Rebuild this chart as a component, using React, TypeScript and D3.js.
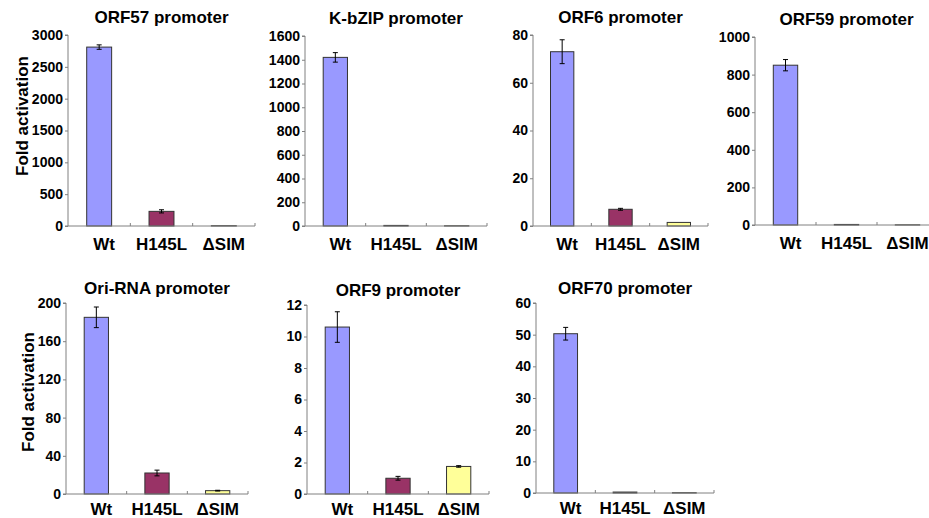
import React, { useEffect, useRef } from "react";
import * as d3 from "d3";

const groups = ["Wt", "H145L", "\u0394SIM"];
const groupColors = ["#9999ff", "#993366", "#ffff99"];

const titles = [
  "ORF57 promoter",
  "K-bZIP promoter",
  "ORF6 promoter",
  "ORF59 promoter",
  "Ori-RNA promoter",
  "ORF9 promoter",
  "ORF70 promoter",
];

// mean fold activation per promoter (Wt, H145L, dSIM)
const orf57 = [2810, 230, 5];
const kbzip = [1420, 5, 2];
const orf6 = [73, 7, 1.5];
const orf59 = [850, 3, 1];
const oriRna = [185, 22, 3.5];
const orf9 = [10.6, 1.0, 1.75];
const orf70 = [50.3, 0.3, 0.1];

// error (one SD) per promoter
const orf57Err = [35, 25, 0];
const kbzipErr = [40, 0, 0];
const orf6Err = [5, 0.4, 0];
const orf59Err = [30, 0, 0];
const oriRnaErr = [10.8, 3, 0.4];
const orf9Err = [0.97, 0.12, 0.05];
const orf70Err = [2, 0, 0];

// y axis maximum and tick step per panel
const yMaxes = [3000, 1600, 80, 1000, 200, 12, 60];
const yTickSteps = [500, 200, 20, 200, 40, 2, 10];

const allValues = [orf57, kbzip, orf6, orf59, oriRna, orf9, orf70];
const allErrors = [orf57Err, kbzipErr, orf6Err, orf59Err, oriRnaErr, orf9Err, orf70Err];

// plot frames (left, right, top, bottom) in page pixels
const frames = [
  [68, 255, 35, 226],
  [305, 487, 36, 226],
  [533, 708, 35, 226],
  [755, 938, 37, 225],
  [66, 248, 303, 494],
  [307, 489, 305, 494],
  [536, 714, 303, 493],
];

const font = "'Liberation Sans', Arial, sans-serif";
const axisColor = "#808080";

function Panel({ idx }) {
  const yAxisRef = useRef(null);
  const [left, right, top, bottom] = frames[idx];
  const values = allValues[idx];
  const errors = allErrors[idx];
  const yMax = yMaxes[idx];
  const step = yTickSteps[idx];

  const x = d3
    .scaleBand()
    .domain(groups)
    .range([left, right])
    .paddingInner(0.6)
    .paddingOuter(0.3);

  const y = d3.scaleLinear().domain([0, yMax]).range([bottom, top]);

  useEffect(() => {
    const axis = d3
      .axisLeft(y)
      .tickValues(d3.range(0, yMax + step / 2, step))
      .tickSize(3)
      .tickPadding(2)
      .tickFormat(d3.format("d"));
    const g = d3.select(yAxisRef.current);
    g.call(axis);
    g.select(".domain").attr("stroke", axisColor).attr("d", `M-3,${bottom}H0V${top}H-3`);
    g.selectAll(".tick line").attr("stroke", axisColor);
    g.selectAll(".tick text")
      .attr("fill", "#000")
      .attr("font-size", 14)
      .attr("font-weight", "bold")
      .attr("font-family", font);
  }, []);

  const xTicks = d3.range(1, groups.length + 1).map(i => left + i * x.step());

  return (
    <g>
      <text
        x={(left + right) / 2}
        y={top - (idx < 4 ? 12 : 9)}
        textAnchor="middle"
        fontSize={17}
        fontWeight="bold"
        fontFamily={font}
      >
        {titles[idx]}
      </text>
      {values.map((v, i) => (
        <rect
          key={i}
          x={x(groups[i])}
          y={y(v)}
          width={x.bandwidth()}
          height={bottom - y(v)}
          fill={groupColors[i]}
          stroke="#333"
          strokeWidth={1}
        />
      ))}
      {values.map((v, i) =>
        errors[i] > 0 ? (
          <g key={"e" + i} stroke="#000" strokeWidth={1}>
            <line x1={x(groups[i]) + x.bandwidth() / 2} x2={x(groups[i]) + x.bandwidth() / 2} y1={y(v + errors[i])} y2={y(v - errors[i])} />
            <line x1={x(groups[i]) + x.bandwidth() / 2 - 2.5} x2={x(groups[i]) + x.bandwidth() / 2 + 2.5} y1={y(v + errors[i])} y2={y(v + errors[i])} />
            <line x1={x(groups[i]) + x.bandwidth() / 2 - 2.5} x2={x(groups[i]) + x.bandwidth() / 2 + 2.5} y1={y(v - errors[i])} y2={y(v - errors[i])} />
          </g>
        ) : null
      )}
      <line x1={left} x2={right} y1={bottom} y2={bottom} stroke={axisColor} strokeWidth={1} />
      {xTicks.map((tx, i) => (
        <line key={"t" + i} x1={tx} x2={tx} y1={bottom} y2={bottom - 3} stroke={axisColor} />
      ))}
      <g ref={yAxisRef} transform={`translate(${left},0)`} />
      {groups.map((gname, i) => (
        <text
          key={"l" + i}
          x={x(gname) + x.bandwidth() / 2 + (i === 0 ? 5 : 0)}
          y={bottom + (idx < 4 ? 24 : 21)}
          textAnchor="middle"
          fontSize={17}
          fontWeight="bold"
          fontFamily={font}
        >
          {gname}
        </text>
      ))}
    </g>
  );
}

export default function App() {
  return (
    <svg
      width={929}
      height={518}
      style={{ position: "absolute", left: 0, top: 0, background: "#fff" }}
    >
      <rect width={929} height={518} fill="#fff" />
      {titles.map((t, i) => (
        <Panel key={t} idx={i} />
      ))}
      <text
        transform="translate(22,116) rotate(-90)"
        textAnchor="middle"
        dominantBaseline="central"
        fontSize={17}
        fontWeight="bold"
        fontFamily={font}
      >
        Fold activation
      </text>
      <text
        transform="translate(28,392) rotate(-90)"
        textAnchor="middle"
        dominantBaseline="central"
        fontSize={17}
        fontWeight="bold"
        fontFamily={font}
      >
        Fold activation
      </text>
    </svg>
  );
}
